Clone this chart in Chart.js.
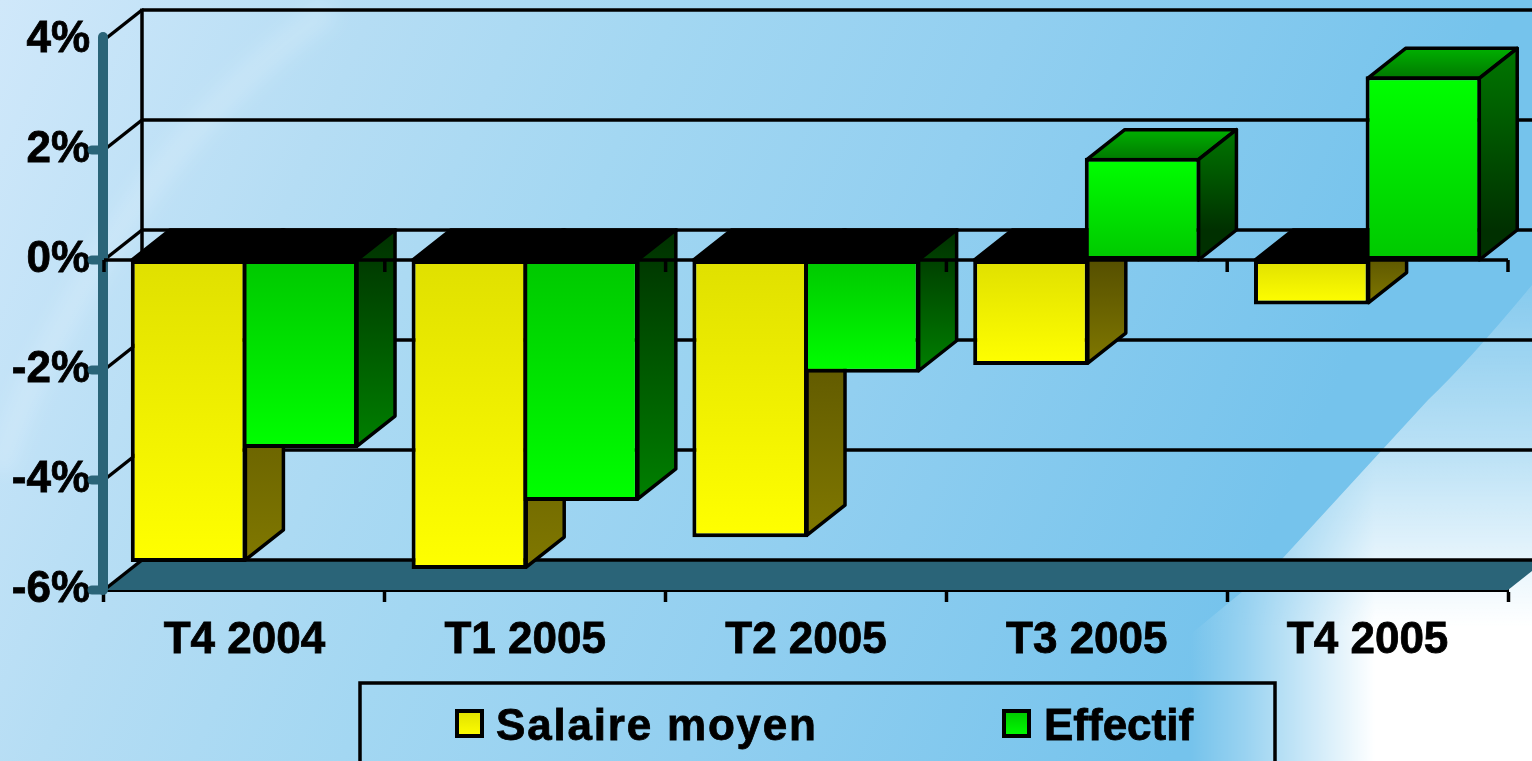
<!DOCTYPE html>
<html><head><meta charset="utf-8">
<style>
html,body{margin:0;padding:0;width:1532px;height:761px;overflow:hidden;background:#8ccbee}
#bg{position:absolute;left:0;top:0}
#c{position:absolute;left:0;top:0}
</style>
<script src="https://cdn.jsdelivr.net/npm/chart.js@4/dist/chart.umd.min.js"></script>
</head><body>
<svg id="bg" width="1532" height="761" viewBox="0 0 1532 761">
<defs>
<linearGradient id="g0" x1="0" y1="0" x2="1260" y2="560" gradientUnits="userSpaceOnUse">
<stop offset="0" stop-color="#d0e8fa"/><stop offset="0.25" stop-color="#b5ddf4"/><stop offset="0.45" stop-color="#a3d7f2"/><stop offset="0.68" stop-color="#92cff0"/><stop offset="1" stop-color="#75c3ec"/>
</linearGradient>
<linearGradient id="gv" x1="0" y1="280" x2="0" y2="761" gradientUnits="userSpaceOnUse">
<stop offset="0" stop-color="#fff" stop-opacity="0.12"/><stop offset="0.35" stop-color="#fff" stop-opacity="0.5"/><stop offset="0.58" stop-color="#fff" stop-opacity="0.82"/><stop offset="0.72" stop-color="#fff" stop-opacity="1"/><stop offset="1" stop-color="#fff" stop-opacity="1"/>
</linearGradient>
<linearGradient id="gh" x1="1190" y1="0" x2="1375" y2="0" gradientUnits="userSpaceOnUse">
<stop offset="0" stop-color="#000"/><stop offset="0.3" stop-color="#444"/><stop offset="1" stop-color="#fff"/>
</linearGradient>
<mask id="m" maskUnits="userSpaceOnUse" x="0" y="0" width="1532" height="761"><rect width="1532" height="761" fill="url(#gh)"/></mask>
<filter id="b" x="-20%" y="-20%" width="140%" height="140%"><feGaussianBlur stdDeviation="9"/></filter>
</defs>
<rect width="1532" height="761" fill="url(#g0)"/>
<path d="M330 10 Q170 120 60 330 Q20 400 0 470" fill="none" stroke="#fff" stroke-opacity="0.16" stroke-width="26" filter="url(#b)"/>
<path d="M1532 285 Q1470 360 1428 400 L1282 559 L1192 633 L1100 761 L1532 761 Z" fill="url(#gv)" mask="url(#m)"/>
</svg>
<canvas id="c" width="1532" height="761"></canvas>
<script>
const categories = ['T4 2004','T1 2005','T2 2005','T3 2005','T4 2005'];
const salaireMoyen = [-5.49,-5.62,-5.04,-1.91,-0.81];
const effectif = [-3.42,-4.38,-2.05,1.86,3.34];
const seriesNames = ['Salaire moyen','Effectif'];
const yTicks = [4,2,0,-2,-4,-6];

const DX = 38, DY = -30, TEAL = '#2a6478', LW = 3.5;

function vGrad(ctx, y0, y1, c0, c1){
  const g = ctx.createLinearGradient(0,y0,0,y1);
  g.addColorStop(0,c0); g.addColorStop(1,c1); return g;
}
function poly(ctx, pts, fill){
  ctx.beginPath();
  pts.forEach((p,i)=> i?ctx.lineTo(p[0],p[1]):ctx.moveTo(p[0],p[1]));
  ctx.closePath();
  if(fill){ctx.fillStyle=fill;ctx.fill();}
  ctx.lineWidth=LW;ctx.strokeStyle='#000';ctx.lineJoin='round';ctx.stroke();
}
function line(ctx,x0,y0,x1,y1,color,w,cap){
  ctx.beginPath();ctx.moveTo(x0,y0);ctx.lineTo(x1,y1);
  ctx.strokeStyle=color||'#000';ctx.lineWidth=w||LW;ctx.lineCap=cap||'butt';ctx.stroke();
}
function frontFill(series){
  return function(c){
    const chart=c.chart, y=chart.scales.y;
    if(!y||!chart.chartArea||c.parsed===undefined||c.type!=='data') return series===0?'#ffff00':'#00ff00';
    const v=c.parsed.y, a=y.getPixelForValue(Math.max(v,0)), b=y.getPixelForValue(Math.min(v,0));
    if(series===0) return vGrad(chart.ctx,a,b,'#e0e000','#ffff00');
    return v<0?vGrad(chart.ctx,a,b,'#00c800','#00ff00'):vGrad(chart.ctx,a,b,'#00ff00','#00c800');
  };
}

const scene3d = {
  id:'scene3d',
  beforeDatasetsDraw(chart){
    const ctx=chart.ctx, y=chart.scales.y, x=chart.scales.x, A=chart.chartArea;
    ctx.save();
    const yz=y.getPixelForValue(0), yb=y.getPixelForValue(-6);
    // floor
    ctx.beginPath();ctx.moveTo(A.left,yb);ctx.lineTo(A.left+DX,yb+DY);ctx.lineTo(A.right+DX,yb+DY);ctx.lineTo(A.right,yb);ctx.closePath();
    ctx.fillStyle=TEAL;ctx.fill();
    line(ctx,A.left+DX,yb+DY,1532,yb+DY);
    // walls
    line(ctx,A.left+DX,y.getPixelForValue(4)+DY-1.5,A.left+DX,yb+DY);
    yTicks.forEach(t=>{
      const p=y.getPixelForValue(t);
      line(ctx,A.left,p,A.left+DX,p+DY);
      if(t!==-6) line(ctx,A.left+DX,p+DY,1532,p+DY);
    });
    // value axis, drawn as a heavy rounded bar with stubs
    yTicks.forEach(t=>{ if(t!==4){const p=y.getPixelForValue(t);line(ctx,92,p,103,p,TEAL,9,'round');}});
    line(ctx,103,y.getPixelForValue(4)-3,103,yb,TEAL,10,'round');
    // 3D faces
    chart.data.datasets.forEach((ds,di)=>{
      chart.getDatasetMeta(di).data.forEach((bar,i)=>{
        const v=ds.data[i], half=bar.width/2, xl=bar.x-half, xr=bar.x+half, yv=bar.y;
        if(v<0){
          poly(ctx,[[xl+1,yz],[xl+1+DX,yz+DY],[xr+DX,yz+DY],[xr,yz]],'#000');
          const f=di===0?vGrad(ctx,yz+DY,yv,'#4a4400','#807800'):vGrad(ctx,yz+DY,yv,'#003000','#008000');
          poly(ctx,[[xr-1,yz],[xr-1+DX,yz+DY],[xr-1+DX,yv-2+DY],[xr-1,yv-2]],f);
        } else {
          poly(ctx,[[xl+2,yv+2],[xl+2+DX,yv+2+DY],[xr-2+DX,yv+2+DY],[xr-2,yv+2]],vGrad(ctx,yv+DY,yv,'#00b400','#007c00'));
          poly(ctx,[[xr-2,yv+2],[xr-2+DX,yv+2+DY],[xr-2+DX,yz+DY],[xr-2,yz]],vGrad(ctx,yv+DY,yz+DY,'#007800','#003000'));
        }
      });
    });
    // zero line with its ticks
    line(ctx,A.left,yz,A.right,yz);
    const step=(A.right-A.left)/categories.length;
    categories.forEach((_,i)=>{
      const tx=A.left+i*step;
      line(ctx,tx,yz,tx,yz+12);
    });
    line(ctx,A.right,yz,A.right,yz+12);
    ctx.restore();
  },
  afterDraw(chart){
    // legend panel
    const ctx=chart.ctx;
    ctx.save();
    ctx.lineWidth=LW;ctx.strokeStyle='#000';
    ctx.beginPath();ctx.moveTo(360,770);ctx.lineTo(360,683);ctx.lineTo(1275,683);ctx.lineTo(1275,770);ctx.stroke();
    const items=[[457,seriesNames[0],'#e0e000','#ffff00',1.8,496],[1004,seriesNames[1],'#00c800','#00ff00',0,1044]];
    items.forEach(it=>{
      ctx.fillStyle=vGrad(ctx,711,737,it[2],it[3]);
      ctx.lineWidth=4;
      ctx.fillRect(it[0],711,25,25);
      ctx.strokeRect(it[0],711,25,25);
      ctx.font='bold 44px "Liberation Sans"';
      ctx.fillStyle='#000';ctx.textAlign='left';ctx.textBaseline='alphabetic';
      ctx.letterSpacing=it[4]+'px';
      ctx.lineWidth=0.8;
      ctx.fillText(it[1],it[5],740);
      ctx.strokeText(it[1],it[5],740);
    });
    ctx.restore();
  }
};

const labelFont={family:'"Liberation Sans"',size:44,weight:'bold'};
new Chart(document.getElementById('c'),{
  type:'bar',
  data:{labels:categories,datasets:[
    {label:seriesNames[0],data:salaireMoyen,backgroundColor:frontFill(0),borderColor:'#000',borderWidth:4,borderSkipped:false},
    {label:seriesNames[1],data:effectif,backgroundColor:frontFill(1),borderColor:'#000',borderWidth:4,borderSkipped:false}
  ]},
  options:{
    responsive:false,animation:false,
    layout:{padding:{left:0,top:40,right:24,bottom:0}},
    datasets:{bar:{categoryPercentage:0.795,barPercentage:1.036}},
    plugins:{legend:{display:false},title:{display:false},tooltip:{enabled:false}},
    scales:{
      x:{
        grid:{display:true,drawOnChartArea:false,drawTicks:true,tickLength:12,tickColor:'#000',tickWidth:3.5,offset:true},
        border:{display:true,color:'#000',width:4},
        ticks:{color:'#000',font:labelFont,padding:12,maxRotation:0,autoSkip:false,textStrokeColor:'#000',textStrokeWidth:0.8},
        afterFit(s){s.height=171;}
      },
      y:{
        min:-6,max:4,
        afterBuildTicks(s){s.ticks=yTicks.map(v=>({value:v}));},
        grid:{display:false},border:{display:false},
        ticks:{color:'#000',font:labelFont,padding:6,callback:v=>v+'%',textStrokeColor:'#000',textStrokeWidth:0.8},
        afterFit(s){s.width=104;}
      }
    }
  },
  plugins:[scene3d]
});
</script>
</body></html>
